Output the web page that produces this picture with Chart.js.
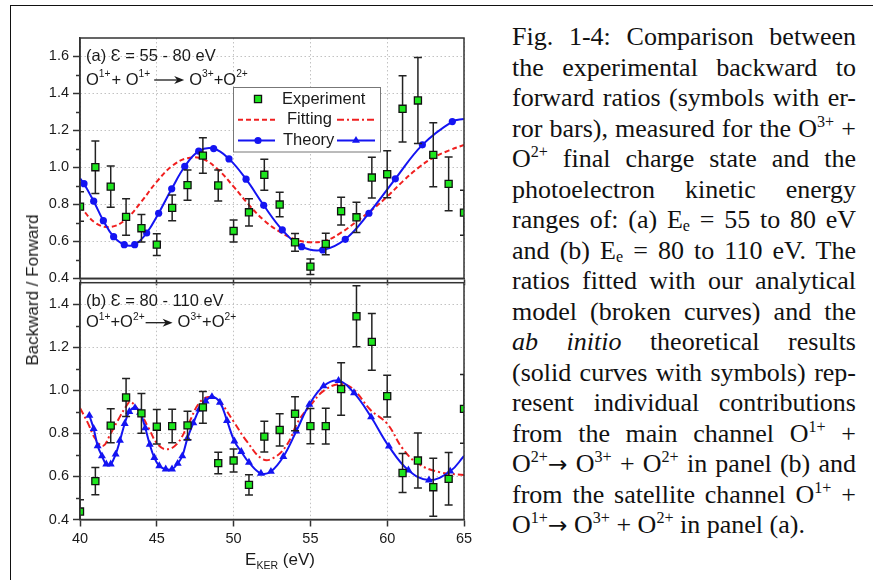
<!DOCTYPE html>
<html>
<head>
<meta charset="utf-8">
<script src="https://cdn.jsdelivr.net/npm/chart.js@4.4.1/dist/chart.umd.min.js"></script>
<style>
  html, body { margin: 0; padding: 0; background: #fff; }
  #page { position: relative; width: 873px; height: 580px; overflow: hidden; background: #fff; }
  #frame { position: absolute; left: 10px; top: 5px; width: 900px; height: 600px;
           border-left: 1.5px solid #111; border-top: 1.5px solid #111; }
  canvas { position: absolute; left: 0; }
  #cTop { top: 0; width: 480px; height: 300px; }
  #cBot { top: 270px; width: 480px; height: 310px; }
  #ytitle { position: absolute; left: 33px; top: 289.5px; white-space: nowrap;
            transform: translate(-50%, -50%) rotate(-90deg);
            font: 17px "Liberation Sans", Arial, sans-serif; color: #1a1a1a; }
  #caption { position: absolute; left: 512px; top: 22px; width: 344px;
             font-family: "Liberation Serif", "Times New Roman", serif; font-size: 26px;
             line-height: 30.5px; color: #111; }
  #caption .ln { text-align: justify; text-align-last: justify; }
  #caption .ln.last { text-align-last: left; }
  #caption sup { font-size: 62%; line-height: 0; vertical-align: 0.6em; }
  #caption sub { font-size: 62%; line-height: 0; vertical-align: -0.2em; }
  #caption .arr { font-family: "DejaVu Sans", sans-serif; font-size: 0.9em; line-height: 0; }
</style>
</head>
<body>
<div id="page">
  <div id="frame"></div>
  <canvas id="cTop" width="480" height="300"></canvas>
  <canvas id="cBot" width="480" height="310"></canvas>
  <div id="ytitle">Backward / Forward</div>
  <div id="caption">
    <div class="ln">Fig. 1-4: Comparison between</div>
    <div class="ln">the experimental backward to</div>
    <div class="ln">forward ratios (symbols with er-</div>
    <div class="ln">ror bars), measured for the O<sup>3+</sup> +</div>
    <div class="ln">O<sup>2+</sup> final charge state and the</div>
    <div class="ln">photoelectron kinetic energy</div>
    <div class="ln">ranges of: (a) E<sub>e</sub> = 55 to 80 eV</div>
    <div class="ln">and (b) E<sub>e</sub> = 80 to 110 eV. The</div>
    <div class="ln">ratios fitted with our analytical</div>
    <div class="ln">model (broken curves) and the</div>
    <div class="ln"><i>ab initio</i> theoretical results</div>
    <div class="ln">(solid curves with symbols) rep-</div>
    <div class="ln">resent individual contributions</div>
    <div class="ln">from the main channel O<sup>1+</sup> +</div>
    <div class="ln">O<sup>2+</sup><span class="arr">&rarr;</span> O<sup>3+</sup> + O<sup>2+</sup> in panel (b) and</div>
    <div class="ln">from the satellite channel O<sup>1+</sup> +</div>
    <div class="ln last">O<sup>1+</sup><span class="arr">&rarr;</span> O<sup>3+</sup> + O<sup>2+</sup> in panel (a).</div>
  </div>
</div>
<script>
// ---- data -------------------------------------------------------------
const energies = [40, 41, 42, 43, 44, 45, 46, 47, 48, 49, 50, 51, 52,
                  53, 54, 55, 56, 57, 58, 59, 60, 61, 62, 63, 64, 65];

// panel (a): satellite channel
const topExp = [0.788, 1.001, 0.896, 0.732, 0.671, 0.582, 0.781, 0.904, 1.064, 0.902, 0.656, 0.757, 0.960,
                0.799, 0.595, 0.463, 0.586, 0.763, 0.730, 0.945, 0.963, 1.317, 1.362, 1.068, 0.911, 0.755];
const topErr = [0.080, 0.142, 0.112, 0.099, 0.074, 0.059, 0.069, 0.082, 0.096, 0.084, 0.060, 0.074, 0.084,
                0.066, 0.048, 0.042, 0.058, 0.075, 0.082, 0.110, 0.127, 0.179, 0.233, 0.173, 0.145, 0.122];
const topFitX = [40, 41, 42, 43, 44, 45, 46, 47, 48, 49, 50, 51, 52,
                 53, 54, 55, 56, 57, 58, 59, 60, 61, 62, 63, 64, 65];
const topFitY = [0.790, 0.700, 0.678, 0.720, 0.815, 0.923, 1.008, 1.050, 1.045, 0.987, 0.896, 0.797, 0.712,
                 0.652, 0.611, 0.595, 0.604, 0.647, 0.707, 0.770, 0.842, 0.923, 0.996, 1.053, 1.091, 1.122];
const topTheoryX = [40, 40.26, 40.89, 41.52, 42.19, 42.88, 43.56, 44.34, 45.12, 45.97, 46.82, 47.73, 48.70,
                    49.70, 50.81, 51.96, 53.17, 54.43, 55.80, 57.27, 58.81, 60.53, 62.29, 64.24, 65];
const topTheoryY = [0.940, 0.912, 0.817, 0.712, 0.625, 0.582, 0.582, 0.645, 0.752, 0.884, 1.005, 1.088, 1.102,
                    1.046, 0.936, 0.795, 0.662, 0.571, 0.553, 0.611, 0.752, 0.938, 1.122, 1.248, 1.262];

// panel (b): main channel
const botExp = [0.437, 0.578, 0.836, 0.967, 0.893, 0.831, 0.834, 0.837, 0.921, 0.662, 0.674, 0.561, 0.785,
                0.816, 0.891, 0.834, 0.834, 1.006, 1.344, 1.225, 0.973, 0.616, 0.674, 0.550, 0.589, 0.914];
const botErr = [0.055, 0.063, 0.079, 0.088, 0.092, 0.080, 0.078, 0.066, 0.074, 0.050, 0.053, 0.047, 0.071,
                0.075, 0.079, 0.082, 0.083, 0.122, 0.142, 0.132, 0.097, 0.091, 0.128, 0.135, 0.122, 0.160];
const botFitX = [40, 40.5, 41, 41.5, 42, 42.5, 43, 43.3, 44, 44.5, 45, 45.6, 46.3, 47, 47.8, 48.5, 49.1,
                 50, 50.85, 51.9, 52.7, 53.5, 54.2, 55, 55.9, 57, 57.8, 58.9, 60, 61, 62, 63.4, 65];
const botFitY = [0.918, 0.850, 0.775, 0.742, 0.800, 0.865, 0.925, 0.947, 0.885, 0.820, 0.755, 0.726, 0.750,
                 0.835, 0.945, 0.970, 0.947, 0.855, 0.764, 0.680, 0.690, 0.750, 0.855, 0.930, 1.000, 1.030,
                 1.005, 0.910, 0.845, 0.730, 0.660, 0.620, 0.607];
const botTheoryX = [40.61, 40.89, 41.15, 41.43, 41.71, 42.00, 42.32, 42.60, 42.91, 43.21, 43.58, 43.91, 44.25,
                    44.54, 44.84, 45.16, 45.58, 45.99, 46.36, 46.66, 46.99, 47.38, 47.77, 48.18, 48.59, 49.11,
                    49.57, 50.05, 50.50, 51.00, 51.78, 52.43, 53.24, 54.08, 54.93, 55.86, 56.83, 57.84, 58.95,
                    60.11, 61.38, 62.72, 64.10, 65];
const botTheoryY = [0.883, 0.822, 0.742, 0.695, 0.657, 0.657, 0.703, 0.767, 0.845, 0.901, 0.919, 0.897, 0.825,
                    0.749, 0.687, 0.649, 0.634, 0.634, 0.660, 0.695, 0.776, 0.848, 0.912, 0.950, 0.970, 0.944,
                    0.859, 0.764, 0.715, 0.665, 0.614, 0.623, 0.692, 0.810, 0.934, 1.020, 1.045, 0.988, 0.876,
                    0.740, 0.629, 0.583, 0.624, 0.695];

// axis ticks
const xTicks = [40, 45, 50, 55, 60, 65];
const topYTicks = [0.4, 0.6, 0.8, 1.0, 1.2, 1.4, 1.6];
const topYMinor = [0.5, 0.7, 0.9, 1.1, 1.3, 1.5];
const botYTicks = [0.4, 0.6, 0.8, 1.0, 1.2, 1.4];
const botYMinor = [0.5, 0.7, 0.9, 1.1, 1.3];

// ---- style ------------------------------------------------------------
const SANS = '"Liberation Sans", Arial, Helvetica, sans-serif';
const AXIS = '#333333';
const GRID = '#c2c2c2';
const GREEN = '#1ee61e';
const RED = '#f01f1f';
const BLUE = '#1414f2';
const INK = '#1a1a1a';

const pairs = (xs, ys) => xs.map((x, i) => ({ x, y: ys[i] }));

// caps and whiskers for the experimental points, drawn just below the squares
const errorBars = {
  id: 'errorBars',
  beforeDatasetDraw(chart, args, opts) {
    if (args.index !== 0) return;
    const { ctx, chartArea: a, scales: { x, y } } = chart;
    const pts = chart.data.datasets[0].data;
    ctx.save();
    ctx.beginPath();
    ctx.rect(a.left, a.top, a.right - a.left, a.bottom - a.top);
    ctx.clip();
    ctx.strokeStyle = '#222';
    ctx.lineWidth = 1.5;
    pts.forEach((p, i) => {
      const e = opts.errors[i];
      const px = x.getPixelForValue(p.x);
      const y1 = y.getPixelForValue(p.y + e);
      const y2 = y.getPixelForValue(p.y - e);
      ctx.beginPath();
      ctx.moveTo(px, y1); ctx.lineTo(px, y2);
      ctx.moveTo(px - 4, y1); ctx.lineTo(px + 4, y1);
      ctx.moveTo(px - 4, y2); ctx.lineTo(px + 4, y2);
      ctx.stroke();
    });
    ctx.restore();
  }
};

// closed box around the plot area plus the minor y ticks
const panelBox = {
  id: 'panelBox',
  afterDatasetsDraw(chart, args, opts) {
    const { ctx, chartArea: a, scales: { y } } = chart;
    ctx.save();
    ctx.strokeStyle = AXIS;
    ctx.lineWidth = 1.5;
    ctx.strokeRect(a.left, a.top, a.right - a.left, a.bottom - a.top);
    ctx.beginPath();
    (opts.minor || []).forEach(v => {
      const py = Math.round(y.getPixelForValue(v)) + 0.5;
      ctx.moveTo(a.left - 4, py); ctx.lineTo(a.left, py);
    });
    ctx.stroke();
    ctx.restore();
  }
};

function drawArrow(ctx, x, y, len) {
  ctx.save();
  ctx.strokeStyle = INK; ctx.fillStyle = INK; ctx.lineWidth = 1.3;
  ctx.beginPath(); ctx.moveTo(x, y); ctx.lineTo(x + len - 6, y); ctx.stroke();
  ctx.beginPath();
  ctx.moveTo(x + len, y);
  ctx.lineTo(x + len - 10, y - 4);
  ctx.lineTo(x + len - 7, y);
  ctx.lineTo(x + len - 10, y + 4);
  ctx.closePath(); ctx.fill();
  ctx.restore();
}

// text runs with superscripts / subscripts / arrows
function drawRich(ctx, x, y, parts, size) {
  ctx.fillStyle = INK;
  ctx.textBaseline = 'middle';
  ctx.textAlign = 'left';
  for (const [t, k] of parts) {
    if (k === 'gap') { x += t; continue; }
    if (k === 'arrow') { drawArrow(ctx, x, y, t); x += t; continue; }
    const fs = k === 'n' ? size : size * 0.62;
    ctx.font = `${fs}px ${SANS}`;
    const dy = k === 'sup' ? -size * 0.36 : (k === 'sub' ? size * 0.33 : 0);
    ctx.fillText(t, x, y + dy);
    x += ctx.measureText(t).width;
  }
  return x;
}

function richWidth(ctx, parts, size) {
  let w = 0;
  for (const [t, k] of parts) {
    if (k === 'gap' || k === 'arrow') { w += t; continue; }
    ctx.font = `${k === 'n' ? size : size * 0.62}px ${SANS}`;
    w += ctx.measureText(t).width;
  }
  return w;
}

function marker(ctx, style, x, y, r, fill, stroke, bw) {
  ctx.save();
  ctx.fillStyle = fill; ctx.strokeStyle = stroke; ctx.lineWidth = bw;
  ctx.beginPath();
  if (style === 'rect') {
    const s = r * Math.SQRT1_2;
    ctx.rect(x - s, y - s, 2 * s, 2 * s);
  } else if (style === 'triangle') {
    ctx.moveTo(x, y - r);
    ctx.lineTo(x + r * Math.sin(2 * Math.PI / 3), y - r * Math.cos(2 * Math.PI / 3));
    ctx.lineTo(x + r * Math.sin(4 * Math.PI / 3), y - r * Math.cos(4 * Math.PI / 3));
    ctx.closePath();
  } else {
    ctx.arc(x, y, r, 0, Math.PI * 2);
  }
  ctx.fill();
  if (bw > 0) ctx.stroke();
  ctx.restore();
}

function seg(ctx, x1, x2, y, color, dash) {
  ctx.save();
  ctx.strokeStyle = color; ctx.lineWidth = 2; ctx.setLineDash(dash);
  ctx.beginPath(); ctx.moveTo(x1, y); ctx.lineTo(x2, y); ctx.stroke();
  ctx.restore();
}

const DASH_A = [5, 3];
const DASH_B = [7, 3, 2, 3];

// panel (a) labels and the shared legend
const topNotes = {
  id: 'topNotes',
  afterDraw(chart) {
    const ctx = chart.ctx;
    ctx.save();
    drawRich(ctx, 86, 56.7, [['(a) \u0190 = 55 - 80 eV', 'n']], 16.5);
    drawRich(ctx, 86, 80, [['O', 'n'], ['1+', 'sup'], [1, 'gap'], ['+ O', 'n'], ['1+', 'sup'], [4, 'gap'],
                           [30, 'arrow'], [5, 'gap'], ['O', 'n'], ['3+', 'sup'], ['+O', 'n'], ['2+', 'sup']], 16.5);

    // legend
    ctx.fillStyle = '#fff';
    ctx.fillRect(233, 87.5, 148, 64.5);
    ctx.strokeStyle = '#777'; ctx.lineWidth = 1;
    ctx.strokeRect(233.5, 87.5, 147, 64.5);
    const r1 = 99, r2 = 119.7, r3 = 140.5;
    marker(ctx, 'rect', 258, r1, 5, GREEN, '#111', 1.3);
    seg(ctx, 238, 275, r2, RED, DASH_A);
    seg(ctx, 337, 375, r2, RED, DASH_B);
    seg(ctx, 238, 275, r3, BLUE, []);
    marker(ctx, 'circle', 258, r3, 3.6, BLUE, BLUE, 0);
    seg(ctx, 337, 375, r3, BLUE, []);
    marker(ctx, 'triangle', 356, r3, 4.6, BLUE, BLUE, 0);
    drawRich(ctx, 282, r1, [['Experiment', 'n']], 16.5);
    drawRich(ctx, 287, r2, [['Fitting', 'n']], 16.5);
    drawRich(ctx, 283, r3, [['Theory', 'n']], 16.5);
    ctx.restore();
  }
};

// panel (b) labels and the energy axis title
const botNotes = {
  id: 'botNotes',
  afterDraw(chart) {
    const ctx = chart.ctx;
    ctx.save();
    drawRich(ctx, 86, 31, [['(b) \u0190 = 80 - 110 eV', 'n']], 16.5);
    drawRich(ctx, 86, 52.7, [['O', 'n'], ['1+', 'sup'], ['+O', 'n'], ['2+', 'sup'], [1, 'gap'],
                             [27, 'arrow'], [5, 'gap'], ['O', 'n'], ['3+', 'sup'], ['+O', 'n'], ['2+', 'sup']], 16.5);
    const title = [['E', 'n'], ['KER', 'sub'], [' (eV)', 'n']];
    const w = richWidth(ctx, title, 17);
    drawRich(ctx, 280 - w / 2, 290.5, title, 17);
    ctx.restore();
  }
};

function xScale(showLabels, height) {
  return {
    type: 'linear', min: 40, max: 65,
    afterBuildTicks: s => { s.ticks = xTicks.map(v => ({ value: v })); },
    ticks: { display: showLabels, color: INK, padding: 4, font: { family: SANS, size: 14.5 },
             maxRotation: 0, autoSkip: false },
    grid: { color: GRID, lineWidth: 1, tickLength: 7, tickColor: AXIS, tickWidth: 1.5, tickBorderDash: [] },
    border: { display: true, color: AXIS, width: 1.5, dash: [1.5, 2.5] },
    afterFit: s => { s.height = height; }
  };
}

function yScale(min, max, ticks) {
  return {
    type: 'linear', min, max,
    afterBuildTicks: s => { s.ticks = ticks.map(v => ({ value: v })); },
    ticks: { color: INK, padding: 4, font: { family: SANS, size: 14.5 }, callback: v => Number(v).toFixed(1) },
    grid: { color: GRID, lineWidth: 1, tickLength: 7, tickColor: AXIS, tickWidth: 1.5, tickBorderDash: [] },
    border: { display: true, color: AXIS, width: 1.5, dash: [1.5, 2.5] },
    afterFit: s => { s.width = 40; }
  };
}

function expSet(ys) {
  return {
    label: 'Experiment', data: pairs(energies, ys), showLine: false, order: 0,
    pointStyle: 'rect', pointRadius: 5, pointBackgroundColor: GREEN,
    pointBorderColor: '#111', pointBorderWidth: 1.3
  };
}

function fitSet(xs, ys, dash) {
  return {
    label: 'Fitting', data: pairs(xs, ys), order: 2, borderColor: RED, borderWidth: 2,
    borderDash: dash, pointRadius: 0, tension: 0.4, fill: false
  };
}

function theorySet(xs, ys, style, r, bareIdx) {
  return {
    label: 'Theory', data: pairs(xs, ys), order: 1, borderColor: BLUE, borderWidth: 2,
    tension: 0.4, fill: false, pointStyle: style,
    pointRadius: ctx => (bareIdx.includes(ctx.dataIndex) ? 0 : r),
    pointBackgroundColor: BLUE, pointBorderColor: BLUE, pointBorderWidth: 0
  };
}

const common = {
  responsive: false, animation: false, devicePixelRatio: 1, events: [],
  plugins: { legend: { display: false }, tooltip: { enabled: false } }
};

new Chart(document.getElementById('cTop'), {
  type: 'line',
  data: {
    datasets: [
      expSet(topExp),
      theorySet(topTheoryX, topTheoryY, 'circle', 3.6, [0, topTheoryX.length - 1]),
      fitSet(topFitX, topFitY, DASH_A)
    ]
  },
  options: {
    ...common,
    layout: { padding: { left: 40, top: 38, right: 16, bottom: 0 } },
    scales: { x: xScale(false, 21.7), y: yScale(0.4, 1.7, topYTicks) },
    plugins: { ...common.plugins, errorBars: { errors: topErr }, panelBox: { minor: topYMinor } }
  },
  plugins: [errorBars, panelBox, topNotes]
});

new Chart(document.getElementById('cBot'), {
  type: 'line',
  data: {
    datasets: [
      expSet(botExp),
      theorySet(botTheoryX, botTheoryY, 'triangle', 4.6, [botTheoryX.length - 1]),
      fitSet(botFitX, botFitY, DASH_B)
    ]
  },
  options: {
    ...common,
    layout: { padding: { left: 40, top: 8.3, right: 16, bottom: 0 } },
    scales: { x: xScale(true, 60.5), y: yScale(0.4, 1.5, botYTicks) },
    plugins: { ...common.plugins, errorBars: { errors: botErr }, panelBox: { minor: botYMinor } }
  },
  plugins: [errorBars, panelBox, botNotes]
});
</script>
</body>
</html>
